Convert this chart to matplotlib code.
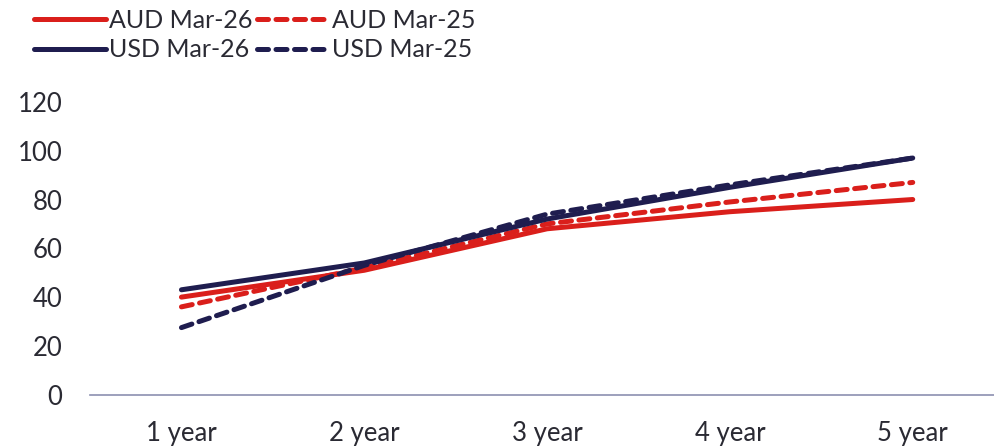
import matplotlib
matplotlib.use("Agg")
import matplotlib.pyplot as plt

plt.rcParams['font.family'] = ['Lato', 'DejaVu Sans']

categories = ['1 year', '2 year', '3 year', '4 year', '5 year']
aud_mar26 = [40, 51, 68, 75, 80]
aud_mar25 = [36, 52, 70, 79, 87]
usd_mar26 = [43, 54, 72, 85, 97]
usd_mar25 = [27.5, 53, 74, 86, 97]

RED = '#DA1F1B'
NAVY = '#1F1D4F'
TEXT = '#2A2A33'

fig = plt.figure(figsize=(9.95, 4.47), dpi=100)
ax = fig.add_axes([0.0905, 0.117, 0.9095, 0.655])

x = list(range(len(categories)))
lw = 3.6
ax.plot(x, aud_mar26, color=RED, lw=lw, solid_capstyle='round', label='AUD Mar-26')
ax.plot(x, aud_mar25, color=RED, lw=lw, ls=(0, (2.2, 1.5)), dash_capstyle='round', label='AUD Mar-25')
ax.plot(x, usd_mar26, color=NAVY, lw=lw, solid_capstyle='round', label='USD Mar-26')
ax.plot(x, usd_mar25, color=NAVY, lw=lw, ls=(0, (2.2, 1.5)), dash_capstyle='round', label='USD Mar-25')

ax.set_xlim(-0.5, 4.45)
ax.set_ylim(0, 120)
ax.set_yticks([0, 20, 40, 60, 80, 100, 120])
ax.set_xticks(x)
ax.set_xticklabels(categories)
ax.tick_params(axis='both', length=0, labelsize=18.5, colors=TEXT)
ax.tick_params(axis='y', pad=20)
ax.tick_params(axis='x', pad=19)
for side in ('top', 'right', 'left'):
    ax.spines[side].set_visible(False)
ax.spines['bottom'].set_color('#8C90B0')
ax.spines['bottom'].set_linewidth(1.2)

handles, labels = ax.get_legend_handles_labels()
order = [0, 2, 1, 3]
fig.legend([handles[i] for i in order], [labels[i] for i in order],
           loc='upper left', bbox_to_anchor=(0.012, 1.03), ncol=2, frameon=False,
           fontsize=18, handlelength=2.85, handletextpad=0.15, columnspacing=0.15,
           labelspacing=0.25, labelcolor=TEXT)

fig.savefig('out.png', dpi=100)
